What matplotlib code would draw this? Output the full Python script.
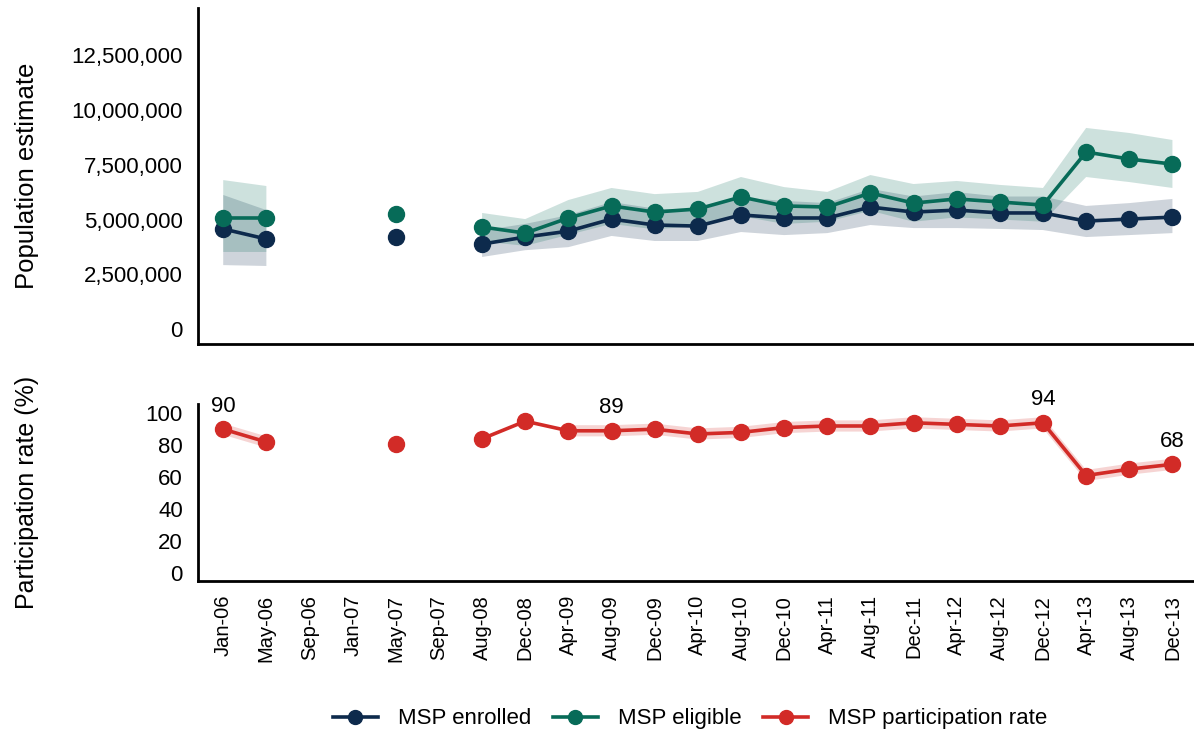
import numpy as np
import matplotlib.pyplot as plt
from matplotlib.lines import Line2D

plt.rcParams['font.family'] = ['Liberation Sans', 'DejaVu Sans']

nan = np.nan

labels = ['Jan-06', 'May-06', 'Sep-06', 'Jan-07', 'May-07', 'Sep-07', 'Aug-08',
          'Dec-08', 'Apr-09', 'Aug-09', 'Dec-09', 'Apr-10', 'Aug-10', 'Dec-10',
          'Apr-11', 'Aug-11', 'Dec-11', 'Apr-12', 'Aug-12', 'Dec-12', 'Apr-13',
          'Aug-13', 'Dec-13']

# millions
enrolled = [4.57, 4.11, nan, nan, 4.20, nan, 3.88, 4.20, 4.47, 5.02, 4.75, 4.70,
            5.21, 5.07, 5.07, 5.57, 5.34, 5.43, 5.30, 5.30, 4.93, 5.02, 5.11]
enrolled_lo = [2.92, 2.88, nan, nan, nan, nan, 3.29, 3.60, 3.74, 4.25, 4.02, 4.02,
               4.43, 4.29, 4.38, 4.75, 4.61, 4.61, 4.57, 4.52, 4.20, 4.29, 4.38]
enrolled_hi = [6.12, 5.43, nan, nan, nan, nan, 4.50, 4.80, 5.20, 5.80, 5.50, 5.40,
               6.00, 5.85, 5.75, 6.40, 6.05, 6.25, 6.05, 6.05, 5.62, 5.75, 5.94]

eligible = [5.07, 5.07, nan, nan, 5.25, nan, 4.66, 4.38, 5.07, 5.62, 5.34, 5.48,
            6.03, 5.62, 5.57, 6.21, 5.75, 5.94, 5.80, 5.66, 8.08, 7.76, 7.53]
eligible_lo = [3.52, 3.52, nan, nan, nan, nan, 4.00, 3.80, 4.30, 4.80, 4.55, 4.70,
               5.15, 4.80, 4.90, 5.40, 4.90, 5.10, 5.00, 4.90, 6.94, 6.71, 6.44]
eligible_hi = [6.80, 6.53, nan, nan, nan, nan, 5.30, 5.02, 5.89, 6.44, 6.16, 6.26,
               6.94, 6.48, 6.26, 7.03, 6.62, 6.76, 6.58, 6.44, 9.18, 8.95, 8.63]

rate = [90, 82, nan, nan, 81, nan, 84, 95, 89, 89, 90, 87, 88, 91, 92, 92, 94,
        93, 92, 94, 61, 65, 68]
rate_lo = [86.5, 78.5, nan, nan, nan, nan, nan, nan, 85.5, 85.5, 86.5, 83.5, 84.5,
           87.5, 88.5, 88.5, 90.5, 89.5, 88.5, 90.5, 57.5, 61.5, 64.5]
rate_hi = [93.5, 85.5, nan, nan, nan, nan, nan, nan, 92.5, 92.5, 93.5, 90.5, 91.5,
           94.5, 95.5, 95.5, 97.5, 96.5, 95.5, 97.5, 64.5, 68.5, 71.5]

rate_labels = {'Jan-06': '90', 'Aug-09': '89', 'Dec-12': '94', 'Dec-13': '68'}

navy = '#0d2a4c'
green = '#076b58'
red = '#d22b27'

x = np.arange(len(labels))
mil = 1e6

fig = plt.figure(figsize=(11.94, 7.35), dpi=100)
ax1 = fig.add_axes([0.166, 0.532, 0.834, 0.457])
ax2 = fig.add_axes([0.166, 0.2095, 0.834, 0.2405])

ax1.fill_between(x, np.array(enrolled_lo) * mil, np.array(enrolled_hi) * mil,
                 color=navy, alpha=0.2, linewidth=0)
ax1.fill_between(x, np.array(eligible_lo) * mil, np.array(eligible_hi) * mil,
                 color=green, alpha=0.2, linewidth=0)
ax1.plot(x, np.array(enrolled) * mil, color=navy, lw=2.6, marker='o', ms=11.5)
ax1.plot(x, np.array(eligible) * mil, color=green, lw=2.6, marker='o', ms=11.5)

ax1.set_xlim(-0.58, 22.5)
ax1.set_ylim(-0.68 * mil, 14.65 * mil)
ax1.set_yticks(np.arange(0, 12.6 * mil, 2.5 * mil))
ax1.yaxis.set_major_formatter(plt.FuncFormatter(lambda v, p: f'{v:,.0f}'))
ax1.set_xticks([])
ax1.set_ylabel('Population estimate', fontsize=18.5)

ax2.fill_between(x, rate_lo, rate_hi, color=red, alpha=0.2, linewidth=0)
ax2.plot(x, rate, color=red, lw=2.6, marker='o', ms=11.5)
for lab, txt in rate_labels.items():
    i = labels.index(lab)
    ax2.annotate(txt, (i, rate[i]), xytext=(0, 9), textcoords='offset points',
                 ha='center', va='bottom', fontsize=16)

ax2.set_xlim(-0.58, 22.5)
ax2.set_ylim(-5, 105.6)
ax2.set_yticks(range(0, 101, 20))
ax2.set_xticks(x)
ax2.set_xticklabels(labels, rotation=90)
ax2.set_ylabel('Participation rate (%)', fontsize=18)

for ax in (ax1, ax2):
    for s in ('top', 'right'):
        ax.spines[s].set_visible(False)
    for s in ('left', 'bottom'):
        ax.spines[s].set_linewidth(2)
    ax.tick_params(axis='y', length=0, labelsize=16, pad=11)
    ax.tick_params(axis='x', length=0, labelsize=14.5, pad=10)
    ax.yaxis.set_label_coords(-0.16, 0.5)

handles = [Line2D([], [], color=c, lw=2.6, marker='o', ms=10) for c in (navy, green, red)]
fig.legend(handles, ['MSP enrolled', 'MSP eligible', 'MSP participation rate'],
           loc='center', bbox_to_anchor=(0.578, 0.022), ncol=3, frameon=False,
           fontsize=16, handlelength=2, handletextpad=0.9, columnspacing=1.0)

fig.savefig('out.png', dpi=100)
